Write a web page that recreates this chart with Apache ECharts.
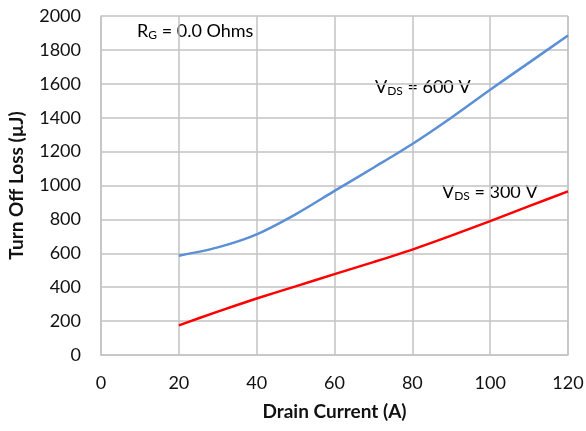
<!DOCTYPE html>
<html>
<head>
<meta charset="utf-8">
<script src="https://cdn.jsdelivr.net/npm/echarts@6/dist/echarts.min.js"></script>
<style>
  html, body { margin: 0; padding: 0; background: #fff; }
  #main { width: 586px; height: 431px; }
</style>
</head>
<body>
<div id="main"></div>
<script>
// drain current (A)
var current = [20, 30, 40, 50, 60, 70, 80, 90, 100, 110, 120];
// turn off loss (uJ)
var loss600 = [586, 635, 712, 830, 968, 1105, 1245, 1400, 1565, 1725, 1885];
var loss300 = [175, 256, 333, 405, 477, 548, 622, 704, 790, 878, 965];

var FONT = 'Lato';
var gridColor = '#c3c3c3';

function pairs(xs, ys) {
    var out = [];
    for (var i = 0; i < xs.length; i++) out.push([xs[i], ys[i]]);
    return out;
}

var myChart = echarts.init(document.getElementById('main'));

var subRich = {
    n: { fontFamily: FONT, fontSize: 18, color: '#111' },
    s: { fontFamily: FONT, fontSize: 12, color: '#111', verticalAlign: 'bottom', padding: [9, 0, 0, 0] }
};

var option = {
    animation: false,
    grid: { left: 101, right: 18, top: 16, bottom: 76, outerBoundsMode: 'none' },
    xAxis: {
        type: 'value', min: 0, max: 120, interval: 20,
        name: 'Drain Current (A)', nameLocation: 'middle', nameGap: 47,
        nameTextStyle: { fontFamily: FONT, fontSize: 19, fontWeight: 'bold', color: '#111' },
        axisLine: { show: true, lineStyle: { color: gridColor, width: 1.5 } },
        axisTick: { show: false },
        axisLabel: { fontFamily: FONT, fontSize: 18, color: '#111', margin: 19 },
        splitLine: { show: true, lineStyle: { color: gridColor, width: 1.5 } }
    },
    yAxis: {
        type: 'value', min: 0, max: 2000, interval: 200,
        name: 'Turn Off Loss (µJ)', nameLocation: 'middle', nameGap: 75,
        nameTextStyle: { fontFamily: FONT, fontSize: 19, fontWeight: 'bold', color: '#111' },
        axisLine: { show: true, lineStyle: { color: gridColor, width: 1.5 } },
        axisTick: { show: false },
        axisLabel: { fontFamily: FONT, fontSize: 18, color: '#111', margin: 20, formatter: function (v) { return String(v); } },
        splitLine: { show: true, lineStyle: { color: gridColor, width: 1.5 } }
    },
    graphic: [
        { type: 'line', shape: { x1: 568, y1: 16, x2: 568, y2: 355 }, style: { stroke: gridColor, lineWidth: 1.5 } },
        { type: 'text', left: 137, top: 22, style: { rich: subRich, text: '{n|R}{s|G}{n| = 0.0 Ohms}' } },
        { type: 'text', left: 375, top: 78, style: { rich: subRich, text: '{n|V}{s|DS}{n| = 600 V}' } },
        { type: 'text', left: 442, top: 183, style: { rich: subRich, text: '{n|V}{s|DS}{n| = 300 V}' } }
    ],
    series: [
        {
            type: 'line', name: 'VDS = 600 V', data: pairs(current, loss600),
            smooth: 0.3, symbol: 'none',
            lineStyle: { color: '#5b8fd6', width: 2.5 }
        },
        {
            type: 'line', name: 'VDS = 300 V', data: pairs(current, loss300),
            smooth: 0.3, symbol: 'none',
            lineStyle: { color: '#ff0000', width: 2.5 }
        }
    ]
};

myChart.setOption(option);
</script>
</body>
</html>
